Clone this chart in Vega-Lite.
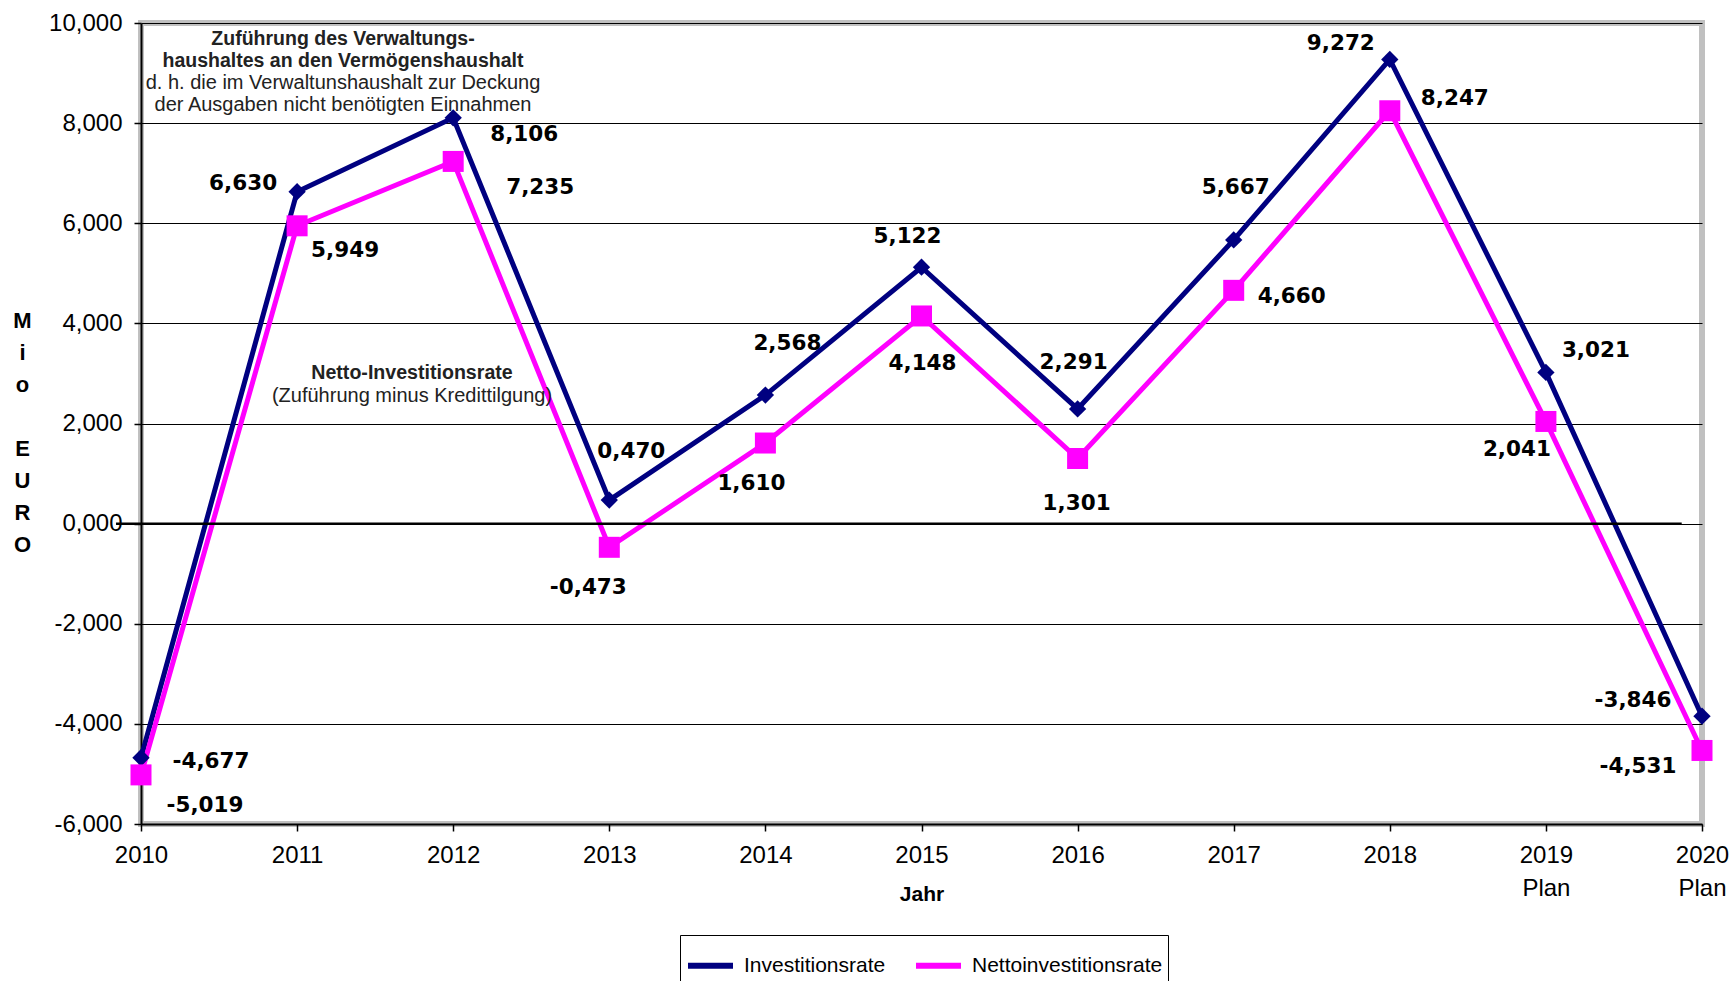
{
  "$schema": "https://vega.github.io/schema/vega-lite/v6.json",
  "width": 1561,
  "height": 801,
  "autosize": "none",
  "padding": {"left": 141, "top": 23, "right": 33, "bottom": 157},
  "background": "white",
  "config": {
    "locale": {"number": {"decimal": ",", "thousands": ".", "grouping": [3], "currency": ["", " €"], "minus": "-"}},
    "view": {"stroke": "#c0c0c0", "strokeWidth": 6},
    "font": "Liberation Sans"
  },
  "data": {
    "values": [
      {"year": 2010, "series": "Investitionsrate", "value": -4.677},
      {"year": 2011, "series": "Investitionsrate", "value": 6.630},
      {"year": 2012, "series": "Investitionsrate", "value": 8.106},
      {"year": 2013, "series": "Investitionsrate", "value": 0.470},
      {"year": 2014, "series": "Investitionsrate", "value": 2.568},
      {"year": 2015, "series": "Investitionsrate", "value": 5.122},
      {"year": 2016, "series": "Investitionsrate", "value": 2.291},
      {"year": 2017, "series": "Investitionsrate", "value": 5.667},
      {"year": 2018, "series": "Investitionsrate", "value": 9.272},
      {"year": 2019, "series": "Investitionsrate", "value": 3.021},
      {"year": 2020, "series": "Investitionsrate", "value": -3.846},
      {"year": 2010, "series": "Nettoinvestitionsrate", "value": -5.019},
      {"year": 2011, "series": "Nettoinvestitionsrate", "value": 5.949},
      {"year": 2012, "series": "Nettoinvestitionsrate", "value": 7.235},
      {"year": 2013, "series": "Nettoinvestitionsrate", "value": -0.473},
      {"year": 2014, "series": "Nettoinvestitionsrate", "value": 1.610},
      {"year": 2015, "series": "Nettoinvestitionsrate", "value": 4.148},
      {"year": 2016, "series": "Nettoinvestitionsrate", "value": 1.301},
      {"year": 2017, "series": "Nettoinvestitionsrate", "value": 4.660},
      {"year": 2018, "series": "Nettoinvestitionsrate", "value": 8.247},
      {"year": 2019, "series": "Nettoinvestitionsrate", "value": 2.041},
      {"year": 2020, "series": "Nettoinvestitionsrate", "value": -4.531}
    ]
  },
  "layer": [
    {
      "mark": {"type": "line", "strokeWidth": 5},
      "encoding": {
        "x": {
          "field": "year", "type": "quantitative",
          "scale": {"domain": [2010, 2020], "nice": false, "zero": false},
          "axis": {
            "values": [2010, 2011, 2012, 2013, 2014, 2015, 2016, 2017, 2018, 2019, 2020],
            "format": "d",
            "labelExpr": "datum.value >= 2019 ? [datum.label, 'Plan'] : datum.label",
            "labelFontSize": 24, "labelColor": "black", "labelLineHeight": 33, "labelPadding": 12,
            "labelFlush": false, "labelOverlap": false,
            "tickColor": "black", "tickSize": 7, "tickWidth": 1.5,
            "domainColor": "black", "domainWidth": 2, "grid": false,
            "title": "Jahr", "titleFontSize": 21, "titleFontWeight": "bold", "titleColor": "black",
            "titleY": 70, "titleBaseline": "middle"
          }
        },
        "y": {
          "field": "value", "type": "quantitative",
          "scale": {"domain": [-6, 10], "nice": false, "zero": false},
          "axis": {
            "values": [-6, -4, -2, 0, 2, 4, 6, 8, 10],
            "format": ".3f",
            "labelFontSize": 24, "labelColor": "black", "labelPadding": 12,
            "tickColor": "black", "tickSize": 7, "tickWidth": 1.5,
            "domainColor": "black", "domainWidth": 2,
            "grid": true, "gridColor": "black", "gridWidth": 1, "gridOpacity": 1,
            "title": ["M", "i", "o", "\u200b", "E", "U", "R", "O"],
            "titleAngle": 0, "titleX": -119, "titleY": 297, "titleAlign": "center", "titleBaseline": "middle",
            "titleLineHeight": 32, "titleFontSize": 22, "titleFontWeight": "bold", "titleColor": "black"
          }
        },
        "color": {
          "field": "series", "type": "nominal",
          "scale": {"domain": ["Investitionsrate", "Nettoinvestitionsrate"], "range": ["#000080", "#ff00ff"]},
          "legend": {
            "orient": "none", "legendX": 539, "legendY": 912, "direction": "horizontal", "title": null,
            "symbolType": "stroke", "symbolSize": 2025, "symbolStrokeWidth": 6,
            "labelFontSize": 21, "labelColor": "black", "labelOffset": 8, "labelFont": "Liberation Sans", "labelLimit": 400,
            "columnPadding": 18, "padding": 5, "strokeColor": "black", "fillColor": "white"
          }
        }
      }
    },
    {
      "data": {"values": [{}]},
      "mark": {"type": "rule", "color": "black", "strokeWidth": 2.5, "clip": false},
      "encoding": {"y": {"datum": 0}, "x": {"datum": 2009.84}, "x2": {"datum": 2019.87}}
    },
    {
      "mark": {"type": "point", "filled": true, "opacity": 1},
      "encoding": {
        "x": {"field": "year", "type": "quantitative"},
        "y": {"field": "value", "type": "quantitative"},
        "color": {"field": "series", "type": "nominal"},
        "shape": {"field": "series", "type": "nominal", "scale": {"range": ["diamond", "square"]}, "legend": null},
        "size": {"field": "series", "type": "nominal", "scale": {"range": [300, 441]}, "legend": null}
      }
    },
    {
      "mark": {
        "type": "text", "font": "DejaVu Sans", "fontWeight": "bold", "fontSize": 21.5, "color": "black",
        "align": "center", "baseline": "middle",
        "dx": {"expr": "datum.series == 'Investitionsrate' ? [70,-54,71,22,22,-14,-4,2,-49,50,-69][datum.year-2010] : [64,48,87,-21,-14,1,-1,58,65,-29,-64][datum.year-2010]"},
        "dy": {"expr": "datum.series == 'Investitionsrate' ? [4,-8,17,-48,-51,-30,-46,-52,-15,-21,-15][datum.year-2010] : [31,25,27,41,41,48,46,7,-12,29,17][datum.year-2010]"}
      },
      "encoding": {
        "x": {"field": "year", "type": "quantitative"},
        "y": {"field": "value", "type": "quantitative"},
        "text": {"field": "value", "type": "quantitative", "format": ".3f"}
      }
    },
    {
      "data": {"values": [{}]},
      "mark": {"type": "text", "text": ["Zuführung des Verwaltungs-", "haushaltes an den Vermögenshaushalt"], "fontWeight": "bold", "fontSize": 19.5, "lineHeight": 22, "align": "center", "baseline": "middle", "color": "#222"},
      "encoding": {"x": {"datum": 2011.294}, "y": {"datum": 9.68}}
    },
    {
      "data": {"values": [{}]},
      "mark": {"type": "text", "text": ["d. h. die im Verwaltunshaushalt  zur Deckung", "der Ausgaben nicht benötigten Einnahmen"], "fontSize": 20, "lineHeight": 22, "align": "center", "baseline": "middle", "color": "#222"},
      "encoding": {"x": {"datum": 2011.294}, "y": {"datum": 8.80}}
    },
    {
      "data": {"values": [{}]},
      "mark": {"type": "text", "text": "Netto-Investitionsrate", "fontWeight": "bold", "fontSize": 19.6, "align": "center", "baseline": "middle", "color": "#222"},
      "encoding": {"x": {"datum": 2011.736}, "y": {"datum": 3.01}}
    },
    {
      "data": {"values": [{}]},
      "mark": {"type": "text", "text": "(Zuführung minus Kredittilgung)", "fontSize": 20, "align": "center", "baseline": "middle", "color": "#222"},
      "encoding": {"x": {"datum": 2011.736}, "y": {"datum": 2.55}}
    }
  ]
}
